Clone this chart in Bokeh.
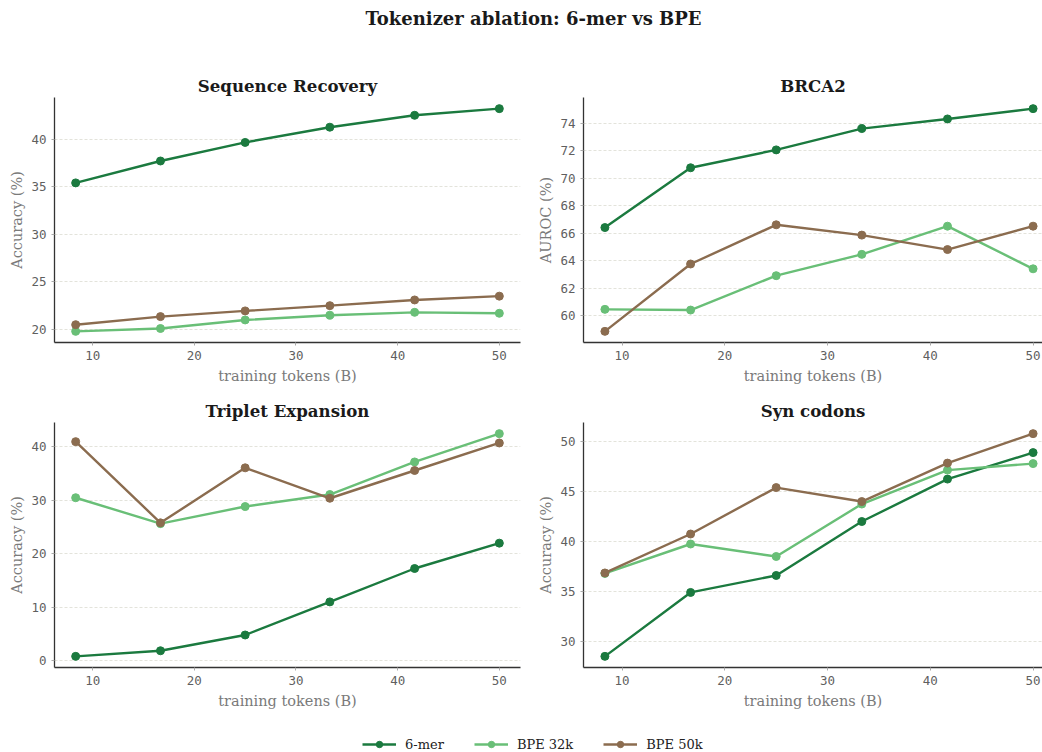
from bokeh.plotting import figure
from bokeh.layouts import column, row
from bokeh.models import Range1d, Legend, LegendItem, FixedTicker, Label
from bokeh.embed import file_html
from bokeh.resources import INLINE

# ---------------- data ----------------
tokens = [8.33, 16.67, 25.0, 33.33, 41.67, 50.0]
series_names = ["6-mer", "BPE 32k", "BPE 50k"]
colors = ["#1b7a3f", "#69bf77", "#8b6c4f"]

seqrec_6mer = [35.4, 37.7, 39.65, 41.25, 42.5, 43.2]
seqrec_bpe32 = [19.8, 20.1, 21.0, 21.5, 21.8, 21.7]
seqrec_bpe50 = [20.5, 21.35, 21.95, 22.5, 23.1, 23.5]

brca2_6mer = [66.4, 70.75, 72.05, 73.6, 74.3, 75.05]
brca2_bpe32 = [60.45, 60.4, 62.9, 64.45, 66.5, 63.4]
brca2_bpe50 = [58.85, 63.75, 66.6, 65.85, 64.8, 66.5]

triplet_6mer = [0.8, 1.85, 4.8, 11.0, 17.25, 22.0]
triplet_bpe32 = [30.5, 25.65, 28.85, 31.1, 37.2, 42.5]
triplet_bpe50 = [41.0, 25.8, 36.1, 30.4, 35.6, 40.75]

syn_6mer = [28.5, 34.9, 36.6, 42.0, 46.25, 48.9]
syn_bpe32 = [36.8, 39.75, 38.5, 43.75, 47.15, 47.8]
syn_bpe50 = [36.85, 40.75, 45.4, 44.0, 47.85, 50.8]

panel_titles = ["Sequence Recovery", "BRCA2", "Triplet Expansion", "Syn codons"]
panel_ylabels = ["Accuracy (%)", "AUROC (%)", "Accuracy (%)", "Accuracy (%)"]
x_ticks = [10, 20, 30, 40, 50]
seqrec_yticks = [20, 25, 30, 35, 40]
brca2_yticks = [60, 62, 64, 66, 68, 70, 72, 74]
triplet_yticks = [0, 10, 20, 30, 40]
syn_yticks = [30, 35, 40, 45, 50]
x_label = "training tokens (B)"
main_title = "Tokenizer ablation: 6-mer vs BPE"

# ---------------- styling ----------------
SERIF = "DejaVu Serif"
MONO = "DejaVu Sans Mono"
LW = 2.4
MS = 8


def padded(vals, frac=0.05):
    lo, hi = min(vals), max(vals)
    pad = (hi - lo) * frac
    return lo - pad, hi + pad


def make_panel(title, ylabel, series, yticks, width, height, left, right, top, bottom, x_visible_frac=1.0):
    x0, x1 = padded(tokens)
    x1 = x0 + (x1 - x0) * x_visible_frac
    allv = [v for s in series for v in s]
    y0, y1 = padded(allv)
    p = figure(width=width, height=height, output_backend="svg", toolbar_location=None,
               x_range=Range1d(x0, x1), y_range=Range1d(y0, y1),
               min_border_left=left, min_border_right=right,
               min_border_top=top, min_border_bottom=bottom)
    p.title.text = title
    p.title.align = "center"
    p.title.text_font = SERIF
    p.title.text_font_size = "16.6px"
    p.title.text_font_style = "bold"
    p.title.text_color = "#1a1a1a"
    p.title.standoff = 3
    p.outline_line_color = None
    p.background_fill_color = "white"
    p.border_fill_color = "white"
    p.xgrid.visible = False
    p.ygrid.grid_line_color = "#dcdcd2"
    p.ygrid.grid_line_dash = "3 2"
    p.ygrid.grid_line_width = 0.8
    for ax in (p.xaxis[0], p.yaxis[0]):
        ax.axis_line_color = "#333333"
        ax.axis_line_width = 1.3
        ax.major_tick_line_color = "#aaaaaa"
        ax.major_tick_out = 3
        ax.major_tick_in = 0
        ax.minor_tick_line_color = None
        ax.major_label_text_font = MONO
        ax.major_label_text_font_size = "12.5px"
        ax.major_label_text_color = "#5f5f5f"
        ax.axis_label_text_font = SERIF
        ax.axis_label_text_font_size = "14.5px"
        ax.axis_label_text_font_style = "normal"
        ax.axis_label_text_color = "#7a7a7a"
        ax.major_label_standoff = 5
    p.xaxis[0].axis_label_standoff = 5
    p.yaxis[0].axis_label_standoff = 3
    p.xaxis[0].ticker = FixedTicker(ticks=x_ticks)
    p.yaxis[0].ticker = FixedTicker(ticks=yticks)
    p.xaxis[0].axis_label = x_label
    p.yaxis[0].axis_label = ylabel
    for vals, c in zip(series, colors):
        p.line(tokens, vals, line_color=c, line_width=LW)
        p.scatter(tokens, vals, size=MS, fill_color=c, line_color=c)
    return p


TOP_H = 330
BOT_H = 330
p1 = make_panel(panel_titles[0], panel_ylabels[0], [seqrec_6mer, seqrec_bpe32, seqrec_bpe50],
                seqrec_yticks, 530, TOP_H, 54, 10, 37, 48)
p2 = make_panel(panel_titles[1], panel_ylabels[1], [brca2_6mer, brca2_bpe32, brca2_bpe50],
                brca2_yticks, 512, TOP_H, 53, 0, 37, 48, x_visible_frac=459 / 471)
p3 = make_panel(panel_titles[2], panel_ylabels[2], [triplet_6mer, triplet_bpe32, triplet_bpe50],
                triplet_yticks, 530, BOT_H, 54, 10, 32, 53)
p4 = make_panel(panel_titles[3], panel_ylabels[3], [syn_6mer, syn_bpe32, syn_bpe50],
                syn_yticks, 512, BOT_H, 53, 0, 32, 53, x_visible_frac=459 / 471)

# ---------------- main title ----------------
pt = figure(width=1042, height=60, output_backend="svg", toolbar_location=None,
            x_axis_type=None, y_axis_type=None, x_range=Range1d(0, 1), y_range=Range1d(0, 1),
            min_border=0)
pt.outline_line_color = None
pt.grid.visible = False
pt.add_layout(Label(x=533, y=42, x_units="screen", y_units="screen", text=main_title,
                    text_align="center", text_baseline="middle", text_font=SERIF,
                    text_font_size="18px", text_font_style="bold", text_color="#1a1a1a"))

# ---------------- legend ----------------
# the series are drawn outside this strip's visible range; only their legend samples show
pl = figure(width=1042, height=32, output_backend="svg", toolbar_location=None,
            x_axis_type=None, y_axis_type=None, x_range=Range1d(-1000, -999),
            y_range=Range1d(-1000, -999), min_border=0)
pl.outline_line_color = None
pl.grid.visible = False
items = []
for name, vals, c in zip(series_names, [seqrec_6mer, seqrec_bpe32, seqrec_bpe50], colors):
    r1 = pl.line(tokens, vals, line_color=c, line_width=LW)
    r2 = pl.scatter(tokens, vals, size=MS, fill_color=c, line_color=c)
    items.append(LegendItem(label=name, renderers=[r1, r2]))
leg = Legend(items=items, orientation="horizontal", location=(362, 0),
             padding=0, margin=0, spacing=30, label_standoff=9,
             glyph_width=34, glyph_height=16, label_height=16,
             label_text_font=SERIF, label_text_font_size="13px", label_text_color="#222222",
             border_line_alpha=0, background_fill_alpha=0)
pl.add_layout(leg)

layout = column(pt, row(p1, p2), row(p3, p4), pl)
open("out.html", "w").write(file_html(layout, INLINE))
